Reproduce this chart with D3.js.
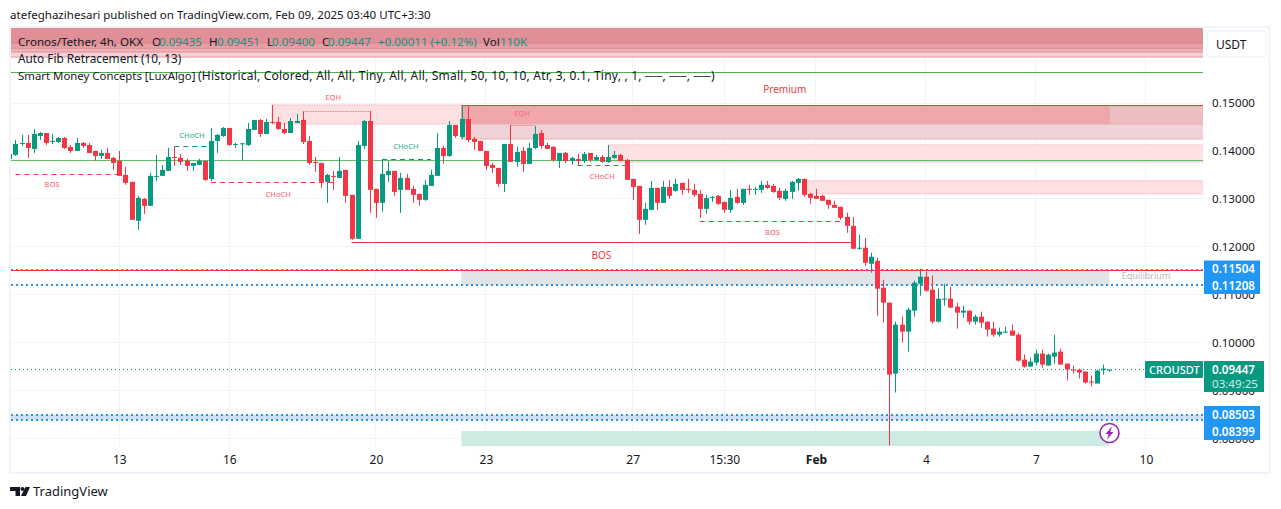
<!DOCTYPE html>
<html>
<head>
<meta charset="utf-8">
<title>CROUSDT</title>
<script src="https://cdnjs.cloudflare.com/ajax/libs/d3/7.8.5/d3.min.js"></script>
<style>
  html, body { margin: 0; padding: 0; background: #fff; overflow: hidden; }
  svg { display: block; }
  text { font-family: "Noto Sans", sans-serif; }
</style>
</head>
<body>
<div id="chart"></div>
<script>
// 4h candles (candle 1 is cut by the left edge)
const opens = [
  .13844,.13927,.14156,.14177,.14052,.14323,.14385,.14198,.14198,.14281,
  .14094,.14010,.14177,.14135,.14010,.13906,.13969,.13865,.13802,.13510,
  .13365,.12552,.13010,.12865,.13469,.13490,.13594,.13885,.13865,.13802,
  .13698,.13719,.13802,.13427,.14219,.14323,.14490,.14135,.14150,.14135,
  .14448,.14656,.14365,.14615,.14615,.14469,.14385,.14594,.14656,.14219,
  .13781,.13760,.13365,.13490,.13448,.13615,.13094,.12177,.14115,.14635,
  .13219,.12927,.13510,.13594,.13198,.13448,.13219,.13115,.12990,.13281,
  .13490,.14073,.13906,.14552,.14302,.14677,.14260,.14219,.14010,.13719,
  .13656,.13323,.14156,.13781,.14010,.13740,.14073,.14385,.14135,.14094,
  .13802,.13969,.13802,.13844,.13802,.13969,.13823,.13885,.13781,.13865,
  .13927,.13823,.13427,.13281,.12573,.12781,.13240,.12927,.13260,.13177,
  .13344,.13219,.13198,.13115,.12802,.13031,.13073,.12948,.12781,.13052,
  .12927,.13219,.13198,.13198,.13302,.13281,.13177,.13010,.13156,.13344,
  .13427,.13115,.13073,.13073,.12990,.12885,.12844,.12635,.12448,.11969,
  .11990,.11656,.11719,.11157,.10844,.09365,.10386,.10240,.10678,.11240,
  .11386,.11115,.10448,.10907,.10928,.10761,.10636,.10678,.10448,.10553,
  .10448,.10303,.10178,.10219,.10261,.10178,.09657,.09511,.09594,.09782,
  .09532,.09719,.09823,.09573,.09448,.09448,.09407,.09198,.09157,.09435,.09435
];
const highs = [
  .13948,.14240,.14344,.14344,.14469,.14406,.14385,.14365,.14302,.14302,
  .14135,.14281,.14198,.14177,.14010,.14031,.14073,.13885,.14010,.13677,
  .13365,.13073,.13031,.13552,.13927,.13719,.14073,.14094,.13948,.13844,
  .13760,.13844,.13802,.14490,.14365,.14510,.14490,.14177,.14177,.14594,
  .14656,.14677,.14677,.14969,.14719,.14594,.14698,.14781,.14823,.14323,
  .13885,.13760,.13531,.13594,.13885,.13615,.13094,.14219,.14656,.14844,
  .13219,.13844,.13802,.13594,.13552,.13531,.13281,.13115,.13406,.13615,
  .14385,.14115,.14635,.14552,.14948,.14948,.14302,.14219,.14010,.13760,
  .13656,.14156,.14552,.14094,.14094,.14177,.14531,.14448,.14177,.14115,
  .13969,.13990,.13885,.13948,.13990,.13969,.13927,.13927,.14135,.14010,
  .13948,.13844,.13427,.13281,.12927,.13385,.13240,.13385,.13406,.13427,
  .13344,.13427,.13323,.13198,.13094,.13073,.13094,.12948,.13198,.13219,
  .13219,.13302,.13260,.13385,.13385,.13323,.13240,.13219,.13385,.13448,
  .13427,.13135,.13219,.13094,.12990,.12969,.12844,.12719,.12635,.12260,
  .12198,.11885,.11782,.11323,.10844,.10448,.10553,.10740,.11303,.11553,
  .11490,.11407,.11136,.11240,.11178,.10844,.10782,.10678,.10594,.10657,
  .10448,.10448,.10323,.10344,.10386,.10219,.09761,.09698,.09865,.09865,
  .09782,.10178,.09886,.09573,.09532,.09469,.09407,.09323,.09448,.09553,.09451
];
const lows = [
  .13844,.13906,.14115,.13865,.13969,.14240,.14135,.14156,.14177,.14052,
  .13969,.14010,.14073,.13969,.13802,.13844,.13844,.13615,.13490,.13302,
  .12573,.12365,.12698,.12865,.13385,.13490,.13594,.13698,.13719,.13594,
  .13594,.13719,.13385,.13385,.13969,.14302,.14115,.14073,.13802,.14115,
  .14448,.14302,.14365,.14573,.14448,.14365,.14385,.14594,.14156,.13719,
  .13573,.13240,.12927,.13198,.13448,.12927,.12156,.12177,.14052,.12719,
  .12615,.12740,.13365,.13073,.12719,.13198,.12927,.12865,.12969,.13281,
  .13490,.13740,.13885,.14281,.14260,.14198,.14031,.14010,.13615,.13552,
  .13260,.13156,.13781,.13677,.13573,.13740,.14052,.14052,.14052,.13781,
  .13656,.13760,.13719,.13698,.13760,.13781,.13802,.13760,.13760,.13844,
  .13802,.13406,.12990,.12281,.12469,.12781,.12781,.12927,.13010,.13156,
  .13094,.13135,.13052,.12615,.12698,.12948,.12885,.12719,.12719,.12906,
  .12885,.13094,.13094,.13135,.13219,.13135,.12990,.12969,.13010,.13177,
  .13052,.12906,.13010,.12969,.12802,.12823,.12573,.12302,.11969,.11948,
  .11615,.11469,.10573,.10428,.07865,.08969,.10011,.09823,.10553,.10990,
  .11073,.10407,.10428,.10782,.10740,.10303,.10532,.10386,.10386,.10323,
  .10136,.10136,.10136,.10219,.10157,.09615,.09490,.09511,.09532,.09490,
  .09532,.09573,.09553,.09219,.09365,.09261,.09157,.09094,.09157,.09344,.09400
];
const closes = [
  .13948,.14156,.14177,.14073,.14365,.14385,.14177,.14219,.14281,.14073,
  .14010,.14177,.14115,.13969,.13906,.13969,.13844,.13760,.13490,.13344,
  .12573,.13031,.12865,.13490,.13490,.13615,.13885,.13865,.13781,.13698,
  .13760,.13802,.13406,.14219,.14344,.14490,.14135,.14156,.14170,.14469,
  .14656,.14365,.14615,.14594,.14469,.14385,.14635,.14635,.14198,.13760,
  .13760,.13365,.13510,.13469,.13594,.13073,.12177,.14135,.14635,.13198,
  .12927,.13531,.13594,.13156,.13448,.13198,.13094,.12990,.13302,.13510,
  .14073,.13906,.14552,.14323,.14677,.14240,.14198,.14010,.13698,.13656,
  .13323,.14156,.13781,.13990,.13740,.14073,.14365,.14115,.14052,.13823,
  .13969,.13802,.13865,.13802,.13948,.13823,.13885,.13781,.13885,.13927,
  .13802,.13406,.13260,.12573,.12802,.13240,.12927,.13260,.13073,.13323,
  .13198,.13198,.13094,.12802,.13031,.13052,.12906,.12781,.13031,.12927,
  .13219,.13198,.13219,.13302,.13240,.13156,.13031,.13177,.13365,.13427,
  .13094,.13031,.13010,.12969,.12885,.12823,.12615,.12448,.11969,.11990,
  .11677,.11802,.11136,.10844,.09344,.10386,.10240,.10698,.11261,.11386,
  .11094,.10448,.10928,.10928,.10740,.10636,.10678,.10448,.10553,.10428,
  .10282,.10178,.10240,.10240,.10157,.09636,.09511,.09615,.09782,.09553,
  .09761,.09803,.09553,.09448,.09428,.09386,.09178,.09178,.09428,.09469,.09447
];

// axes
const priceTicks = [.15, .14, .13, .12, .11, .10, .09, .08];
const timeTickIndex = [19, 37, 61, 79, 103, 118, 133, 151, 169, 187];
const timeTickLabels = ["13", "16", "20", "23", "27", "15:30", "Feb", "4", "7", "10"];

// zones: candle index from/to, price top/bottom
const zoneFrom =   [1,      1,      1,      1,      44,     75,     181,    75,     99,     131,    75,     1,      75];
const zoneTo =     [197,    197,    197,    197,    75,     181,    197,    197,    197,    197,    181,    197,    181];
const zoneTop =    [.16600, .16260, .16146, .16073, .14969, .14948, .14948, .14573, .14135, .13385, .11520, .08503, .08167];
const zoneBottom = [.16260, .16146, .16073, .15969, .14573, .14573, .14573, .14260, .13781, .13115, .11208, .08399, .07850];
const zoneColor =  ["#e08f96", "#e59ea4", "#eeb5ba", "#f3d1d5", "#fde0e2", "#f0a6ab", "#edbdc1", "#f0d3d6", "#fde1e3", "#fde0e2", "#e3e4e7", "#cfdffb", "#cdeae3"];
const zoneEdge =   ["#dd8790", "#dd8790", "#e3929b", "#e79aa2", "#f7c9cd", "#ea9aa1", "#e7adb2", "#e8aeb4", "#f7c9cd", "#f7c9cd", "none", "none", "none"];

// horizontal levels
const levelPrice = [.15656, .14948, .13813, .11520];
const levelFrom = [1, 75, 1, 1];
const levelColor = ["#4caf50", "#f23645", "#66bb6a", "#f23645"];
const dottedLevels = [.11530, .11208, .08503, .08399];
const lastPrice = .09447;

// market structure segments
const segFrom =  [2,      28,     34,     49,     62,     83,     94,     114,    57];
const segTo =    [19,     34,     54,     60,     70,     87,     102,    137,    139];
const segPrice = [.13521, .14094, .13354, .14823, .13833, .14542, .13698, .12540, .12105];
const segKind = ["r", "g", "r", "e", "g", "e", "r", "r", "s"];

const tagText =  ["BOS", "CHoCH", "CHoCH", "EQH", "CHoCH", "EQH", "CHoCH", "BOS", "BOS", "Premium"];
const tagIndex = [8.0,   30.9,    45,      54,    65.9,    84.9,  98,      125.9, 97.9,  127.9];
const tagPrice = [.13302, .14330, .13100, .15115, .14094, .14790, .13469, .12302, .11802, .15281];

const WIDTH = 1281, HEIGHT = 509;
const PLOT = { LEFT: 11, RIGHT: 1203, TOP: 28, BOTTOM: 446 };

var x = d3.scaleLinear().domain([19, 181]).range([119.3, 1109.3]);
var y = d3.scaleLinear().domain([.15, .08]).range([103.5, 439]);
var crisp = v => Math.floor(v) + 0.5;

var svg = d3.select("#chart").append("svg")
  .attr("width", WIDTH)
  .attr("height", HEIGHT);

svg.append("clipPath").attr("id", "plot").append("rect")
  .attr("x", PLOT.LEFT).attr("y", PLOT.TOP)
  .attr("width", PLOT.RIGHT - PLOT.LEFT).attr("height", PLOT.BOTTOM - PLOT.TOP);

// outer frame
svg.append("rect")
  .attr("x", 10).attr("y", 27).attr("width", 1259.5).attr("height", 446)
  .attr("fill", "none").attr("stroke", "#f0f3fa").attr("stroke-width", 2);

var plot = svg.append("g").attr("clip-path", "url(#plot)");

/* ---- grid ---- */
plot.selectAll("line.hgrid").data(priceTicks).enter().append("line")
  .attr("x1", PLOT.LEFT).attr("x2", PLOT.RIGHT)
  .attr("y1", d => Math.round(y(d)) - 0.5).attr("y2", d => Math.round(y(d)) - 0.5)
  .attr("stroke", "#f0f3fa");
plot.selectAll("line.vgrid").data(timeTickIndex).enter().append("line")
  .attr("x1", d => crisp(x(d))).attr("x2", d => crisp(x(d)))
  .attr("y1", PLOT.TOP).attr("y2", PLOT.BOTTOM)
  .attr("stroke", "#f0f3fa");

/* ---- zones ---- */
plot.selectAll("rect.zone").data(d3.range(zoneFrom.length)).enter().append("rect")
  .attr("x", i => x(zoneFrom[i]))
  .attr("width", i => x(zoneTo[i]) - x(zoneFrom[i]))
  .attr("y", i => y(zoneTop[i]))
  .attr("height", i => y(zoneBottom[i]) - y(zoneTop[i]))
  .attr("fill", i => zoneColor[i])
  .attr("stroke", i => zoneEdge[i]);

/* ---- levels ---- */
plot.selectAll("line.dotted").data(dottedLevels).enter().append("line")
  .attr("x1", PLOT.LEFT).attr("x2", PLOT.RIGHT)
  .attr("y1", d => Math.round(y(d))).attr("y2", d => Math.round(y(d)))
  .attr("stroke", "#2196f3")
  .attr("stroke-width", 2)
  .attr("stroke-dasharray", "2 3");

plot.selectAll("line.level").data(d3.range(levelPrice.length)).enter().append("line")
  .attr("x1", i => x(levelFrom[i])).attr("x2", PLOT.RIGHT)
  .attr("y1", i => crisp(y(levelPrice[i]))).attr("y2", i => crisp(y(levelPrice[i])))
  .attr("stroke", i => levelColor[i])
  .attr("stroke-width", 1.2);

/* ---- structure lines ---- */
var segColor = { r: "#f23645", g: "#089981", e: "#f77c80", s: "#f23645" };
var segDash = { r: "5 4", g: "5 4", e: "1.5 1", s: null };
plot.selectAll("line.seg").data(d3.range(segFrom.length)).enter().append("line")
  .attr("x1", i => x(segFrom[i])).attr("x2", i => x(segTo[i]))
  .attr("y1", i => crisp(y(segPrice[i]))).attr("y2", i => crisp(y(segPrice[i])))
  .attr("stroke", i => segColor[segKind[i]])
  .attr("stroke-dasharray", i => segDash[segKind[i]]);

/* ---- last price ---- */
plot.append("line")
  .attr("x1", PLOT.LEFT).attr("x2", x(timeTickIndex[9]))
  .attr("y1", crisp(y(lastPrice))).attr("y2", crisp(y(lastPrice)))
  .attr("stroke", "#089981")
  .attr("stroke-dasharray", "1 3");

/* ---- candles ---- */
var color = i => (closes[i] >= opens[i] ? "#089981" : "#f23645");
var candles = plot.selectAll("g.candle").data(opens.map((d, i) => i)).enter().append("g");

candles.append("line")
  .attr("x1", i => Math.round(x(i + 1)) + 0.5).attr("x2", i => Math.round(x(i + 1)) + 0.5)
  .attr("y1", i => y(highs[i])).attr("y2", i => y(lows[i]))
  .attr("stroke", color);

candles.append("rect")
  .attr("x", i => Math.round(x(i + 1)) - 2)
  .attr("width", 5)
  .attr("y", i => y(Math.max(opens[i], closes[i])))
  .attr("height", i => Math.max(1, Math.abs(y(opens[i]) - y(closes[i]))))
  .attr("fill", color);

/* ---- structure labels ---- */
var tagColor = i => (i === 1 || i === 4 ? "#48b29d" : "#f6737e");
plot.selectAll("text.tag").data(tagText).enter().append("text")
  .attr("x", (d, i) => x(tagIndex[i]))
  .attr("y", (d, i) => y(tagPrice[i]))
  .attr("text-anchor", "middle")
  .attr("dominant-baseline", "middle")
  .attr("font-size", (d, i) => (i >= 8 ? 10 : 7.5))
  .attr("font-weight", (d, i) => (i >= 8 ? 400 : 500))
  .attr("fill", (d, i) => (i >= 8 ? "#f23645" : tagColor(i)))
  .text(d => d);

plot.append("text")
  .attr("x", 1146).attr("y", 277)
  .attr("text-anchor", "middle").attr("dominant-baseline", "middle")
  .attr("font-size", 9).attr("fill", "#b8bac3")
  .text("Equilibrium");

/* ---- axes ---- */
var priceAxis = d3.axisRight(y).tickValues(priceTicks).tickFormat(d3.format(".5f")).tickSize(0).tickPadding(0);
var gy = svg.append("g").attr("transform", "translate(1212,-0.5)").call(priceAxis);
gy.select(".domain").remove();
gy.selectAll("text").attr("font-size", 11.6).attr("font-family", "'Noto Sans', sans-serif").attr("fill", "#131722");

var timeAxis = d3.axisBottom(x).tickValues(timeTickIndex).tickFormat((d, i) => timeTickLabels[i]).tickSize(0).tickPadding(0);
var gx = svg.append("g").attr("transform", "translate(0,455)").call(timeAxis);
gx.select(".domain").remove();
gx.selectAll("text")
  .attr("font-size", 12)
  .attr("font-family", "'Noto Sans', sans-serif")
  .attr("font-weight", (d, i) => (timeTickLabels[i] === "Feb" ? 700 : 400))
  .attr("fill", "#131722");

/* ---- price tags ---- */
var priceTags = [[.11504, 260.5], [.11208, 277], [.08503, 406], [.08399, 423]];
var tag = svg.selectAll("g.ptag").data(priceTags).enter().append("g");
tag.append("rect")
  .attr("x", 1204).attr("width", 56).attr("height", 17)
  .attr("y", d => d[1]).attr("fill", "#2196f3");
tag.append("text")
  .attr("x", 1212).attr("y", d => d[1] + 12.5)
  .attr("font-size", 11.6).attr("font-weight", 600).attr("fill", "#fff")
  .text(d => d3.format(".5f")(d[0]));

svg.append("rect").attr("x", 1145).attr("y", 361).attr("width", 58).attr("height", 17).attr("rx", 1).attr("fill", "#089981");
svg.append("text").attr("x", 1149).attr("y", 374)
  .attr("font-size", 11).attr("font-weight", 500).attr("fill", "#fff").text("CROUSDT");
svg.append("rect").attr("x", 1204).attr("y", 361).attr("width", 60).attr("height", 31).attr("fill", "#089981");
svg.append("text").attr("x", 1212).attr("y", 374)
  .attr("font-size", 11.6).attr("font-weight", 600).attr("fill", "#fff").text(d3.format(".5f")(lastPrice));
svg.append("text").attr("x", 1212).attr("y", 388)
  .attr("font-size", 11.6).attr("fill", "#d5efe9").text("03:49:25");

// USDT button
svg.append("rect")
  .attr("x", 1207).attr("y", 31).attr("width", 59).attr("height", 26).attr("rx", 3)
  .attr("fill", "#fff").attr("stroke", "#f0f3fa").attr("stroke-width", 1.5);
svg.append("text").attr("x", 1216).attr("y", 49)
  .attr("font-size", 12).attr("fill", "#131722").text("USDT");

// lightning badge
var badge = svg.append("g").attr("transform", "translate(1109.5,433)");
badge.append("circle").attr("r", 9.5).attr("fill", "#fff").attr("stroke", "#9c27b0").attr("stroke-width", 1.6);
badge.append("path").attr("d", "M2.5,-6.5 L-4,1 L-0.8,1 L-2.5,6.5 L4,-1 L0.8,-1 Z").attr("fill", "#9c27b0");

/* ---- header and legend ---- */
svg.append("text").attr("x", 10).attr("y", 19)
  .attr("font-size", 11.55).attr("fill", "#131722")
  .text("atefeghazihesari published on TradingView.com, Feb 09, 2025 03:40 UTC+3:30");

var legendParts = [
  ["Cronos/Tether, 4h, OKX", 0, 18], ["O", 0, 152], ["0.09435", 1, 159], ["H", 0, 209], ["0.09451", 1, 217],
  ["L", 0, 267], ["0.09400", 1, 272], ["C", 0, 322], ["0.09447", 1, 328],
  ["+0.00011 (+0.12%)", 1, 378], ["Vol", 0, 483], ["110K", 1, 500]
];
var legend1 = svg.append("text").attr("y", 46).attr("font-size", 11.6);
legend1.selectAll("tspan").data(legendParts).enter().append("tspan")
  .attr("x", d => d[2])
  .attr("fill", d => (d[1] ? "#089981" : "#131722"))
  .text(d => d[0]);

svg.append("text").attr("x", 18).attr("y", 63).attr("font-size", 11.8).attr("fill", "#131722")
  .text("Auto Fib Retracement (10, 13)");

var legend3 = svg.append("text").attr("y", 80).attr("font-size", 11.4).attr("fill", "#131722");
legend3.append("tspan").attr("x", 18).text("Smart Money Concepts [LuxAlgo]");
legend3.append("tspan").attr("x", 198).attr("font-size", 12).attr("letter-spacing", 0.22)
  .text("(Historical, Colored, All, All, Tiny, All, All, Small, 50, 10, 10, Atr, 3, 0.1, Tiny, , 1, ──, ──, ──)");

/* ---- footer logo ---- */
var logo = svg.append("g").attr("fill", "#131722");
logo.append("path").attr("d", "M10,487 H20 V496 H15.5 V491 H10 Z");
logo.append("circle").attr("cx", 22.5).attr("cy", 489).attr("r", 2);
logo.append("path").attr("d", "M25.5,487 H30 L26,496 H21 Z");
svg.append("text").attr("x", 33).attr("y", 496)
  .attr("font-size", 13).attr("fill", "#131722").text("TradingView");
</script>
</body>
</html>
